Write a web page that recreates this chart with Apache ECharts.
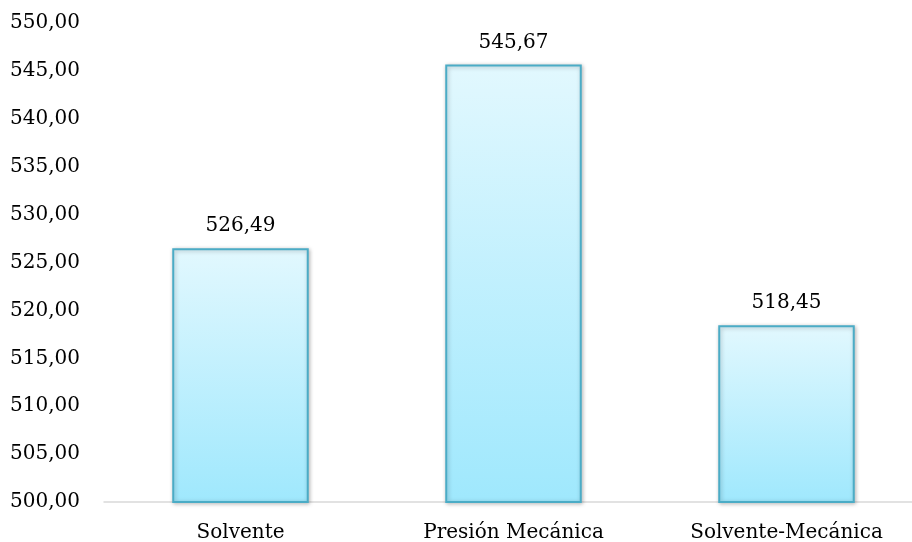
<!DOCTYPE html>
<html><head><meta charset="utf-8">
<script src="https://cdn.jsdelivr.net/npm/echarts@6/dist/echarts.min.js"></script>
<style>html,body{margin:0;padding:0;background:#fff}#c{width:912px;height:542px}</style>
</head><body><div id="c"></div>
<script>
var categories = ['Solvente', 'Presión Mecánica', 'Solvente-Mecánica'];
var values = [526.49, 545.67, 518.45];
var yMin = 500, yMax = 550, yStep = 5;
function fmt(v){ return v.toFixed(2).replace('.', ','); }
var font = 'DejaVu Serif';
var chart = echarts.init(document.getElementById('c'));
chart.setOption({
  animation: false,
  grid: { left: 104, top: 23, right: -11, bottom: 40, containLabel: false, outerBoundsMode: 'none' },
  xAxis: {
    type: 'category', data: categories,
    axisLine: { lineStyle: { color: '#d9d9d9', width: 1.5 } },
    axisTick: { show: false },
    axisLabel: { color: '#000', fontFamily: font, fontSize: 20, margin: 21 }
  },
  yAxis: {
    type: 'value', min: yMin, max: yMax, interval: yStep,
    splitLine: { show: false }, axisLine: { show: false }, axisTick: { show: false },
    axisLabel: { color: '#000', fontFamily: font, fontSize: 20, margin: 24, formatter: fmt }
  },
  series: [{
    type: 'bar', data: values, barWidth: '50%',
    itemStyle: {
      color: new echarts.graphic.LinearGradient(0, 0, 0, 1, [
        { offset: 0, color: '#e2f8fe' }, { offset: 1, color: '#9fe8fd' }
      ]),
      borderColor: '#4bacc6', borderWidth: 2,
      shadowColor: 'rgba(0,0,0,0.25)', shadowBlur: 4, shadowOffsetX: 1, shadowOffsetY: 1
    },
    label: { show: true, position: 'top', distance: 12, color: '#000', fontFamily: font, fontSize: 20, formatter: function(p){ return fmt(p.value); } }
  }]
});
</script></body></html>
